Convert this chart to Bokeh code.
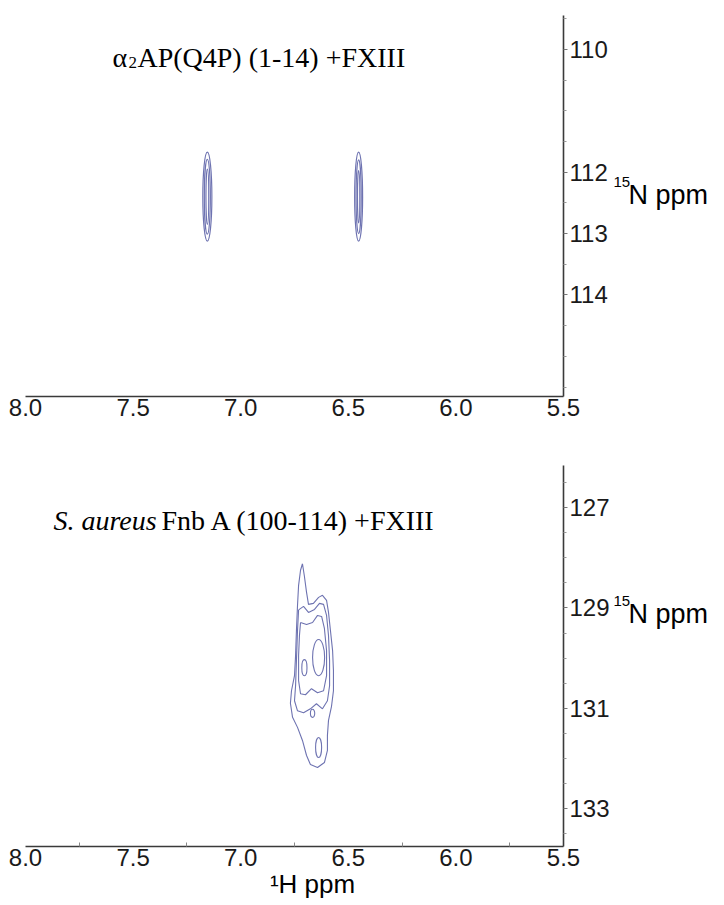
from bokeh.plotting import figure
from bokeh.layouts import column, row
from bokeh.models import Range1d, FixedTicker, Label, PrintfTickFormatter
from bokeh.embed import file_html
from bokeh.resources import INLINE

# ---- shared 1H axis ----
h_ticks = [8.0, 7.5, 7.0, 6.5, 6.0, 5.5]
h_minor_bottom = [7.75, 7.25, 6.75, 6.25, 5.75]

# ---- upper spectrum: alpha2AP(Q4P) (1-14) + FXIII ----
top_n_ticks = [110, 112, 113, 114]
top_n_minor = [109.5, 110.5, 111, 111.5, 112.5, 113.5, 114.5, 115, 115.5]
top_peak_h = [7.155, 7.155, 7.155, 6.452, 6.452, 6.452]
top_peak_n = [112.4, 112.4, 112.4, 112.4, 112.4, 112.4]
top_peak_w = [0.042, 0.028, 0.013, 0.037, 0.024, 0.011]   # 1H extent of each contour
top_peak_hgt = [1.45, 1.22, 0.90, 1.45, 1.20, 0.85]        # 15N extent of each contour

# ---- lower spectrum: S. aureus Fnb A (100-114) + FXIII ----
bot_n_ticks = [127, 129, 131, 133]
bot_n_minor = [126.5, 127.5, 128, 128.5, 129.5, 130, 130.5, 131.5, 132, 132.5, 133.5]

lvl1_h = [6.713, 6.704, 6.694, 6.685, 6.662, 6.638, 6.620, 6.601, 6.592, 6.583, 6.573,
          6.569, 6.569, 6.578, 6.592, 6.597, 6.597, 6.611, 6.643, 6.676, 6.694, 6.713,
          6.736, 6.759, 6.769, 6.764, 6.750, 6.745, 6.741, 6.736, 6.731, 6.722]
lvl1_n = [128.12, 128.37, 128.69, 128.93, 128.91, 128.79, 128.75, 128.85, 129.09, 129.45, 129.85,
          130.25, 130.65, 130.96, 131.24, 131.54, 131.84, 132.08, 132.18, 132.12, 131.94, 131.64,
          131.38, 131.18, 130.90, 130.65, 130.35, 129.95, 129.45, 128.95, 128.55, 128.25]

lvl2_h = [6.731, 6.708, 6.685, 6.657, 6.634, 6.615, 6.601, 6.592, 6.587, 6.587, 6.597,
          6.620, 6.648, 6.676, 6.708, 6.736, 6.750, 6.745, 6.741, 6.736]
lvl2_n = [129.04, 128.97, 129.09, 129.03, 128.91, 128.93, 129.15, 129.55, 130.05, 130.55, 130.85,
          131.01, 130.91, 131.01, 131.09, 131.05, 130.85, 130.55, 130.05, 129.45]

lvl3_h = [6.722, 6.694, 6.666, 6.643, 6.624, 6.611, 6.601, 6.601, 6.615, 6.643, 6.671,
          6.699, 6.722, 6.731, 6.731, 6.727]
lvl3_n = [129.29, 129.33, 129.29, 129.15, 129.17, 129.41, 129.85, 130.35, 130.65, 130.69, 130.61,
          130.73, 130.71, 130.45, 129.95, 129.55]

# small closed islands (centre, 1H extent, 15N extent)
isl_h = [6.638, 6.704, 6.666, 6.638]
isl_n = [129.99, 130.19, 131.10, 131.78]
isl_w = [0.056, 0.024, 0.020, 0.028]
isl_hgt = [0.72, 0.32, 0.16, 0.40]

CONTOUR = "#6e73b1"
AXIS = "#3a3a3a"
SANS = "Liberation Sans"
SERIF = "Liberation Serif"


def closed(xs, ys):
    return list(xs) + [xs[0]], list(ys) + [ys[0]]


def style(p, n_ticks, n_minor, x_minor):
    p.grid.visible = False
    p.outline_line_color = None

    xa = p.xaxis[0]
    xa.ticker = FixedTicker(ticks=h_ticks, minor_ticks=x_minor)
    xa.formatter = PrintfTickFormatter(format="%.1f")
    xa.axis_line_color = AXIS
    xa.axis_line_width = 1.6
    xa.major_tick_in = 0
    xa.major_tick_out = 0
    xa.minor_tick_in = 4
    xa.minor_tick_out = 0
    xa.minor_tick_line_color = "#888888"
    xa.major_label_text_font = SANS
    xa.major_label_text_font_size = "24px"
    xa.major_label_text_color = "#1a1a1a"
    xa.major_label_standoff = 2

    ya = p.yaxis[0]
    ya.ticker = FixedTicker(ticks=n_ticks, minor_ticks=n_minor)
    ya.axis_line_color = AXIS
    ya.axis_line_width = 1.6
    ya.major_tick_in = 0
    ya.major_tick_out = 4
    ya.minor_tick_in = 0
    ya.minor_tick_out = 3
    ya.major_tick_line_color = "#777777"
    ya.minor_tick_line_color = "#999999"
    ya.major_label_text_font = SANS
    ya.major_label_text_font_size = "24px"
    ya.major_label_text_color = "#1a1a1a"
    ya.major_label_standoff = 2


def side_panel(height, y_range, top, bottom):
    s = figure(width=112, height=height, x_range=Range1d(0, 1), y_range=y_range,
               x_axis_location=None, y_axis_location=None,
               output_backend="svg", toolbar_location=None, min_border=0,
               min_border_top=top, min_border_bottom=bottom)
    s.grid.visible = False
    s.outline_line_color = None
    return s


def n_label(s, y):
    s.add_layout(Label(x=0, y=y, x_offset=1, y_offset=13, text="15", text_font=SANS,
                       text_font_size="15px", text_baseline="alphabetic", text_color="black"))
    s.add_layout(Label(x=0, y=y, x_offset=16, text="N ppm", text_font=SANS,
                       text_font_size="27px", text_baseline="alphabetic", text_color="black"))


# ---------------- upper panel ----------------
p1 = figure(width=612, height=450,
            x_range=Range1d(8.0, 5.5), y_range=Range1d(115.654, 109.449),
            y_axis_location="right", output_backend="svg", toolbar_location=None,
            min_border_left=25, min_border_right=49, min_border_top=15, min_border_bottom=54)
style(p1, top_n_ticks, top_n_minor, [])

p1.ellipse(x=top_peak_h, y=top_peak_n, width=top_peak_w, height=top_peak_hgt,
           fill_color=None, line_color=CONTOUR, line_width=1.2)

TITLE_Y = 110.13
p1.add_layout(Label(x=7.596, y=TITLE_Y, text="α", text_font=SERIF, text_font_size="28px",
                    text_baseline="alphabetic", text_color="black"))
p1.add_layout(Label(x=7.596, y=TITLE_Y, x_offset=16, y_offset=-5, text="2", text_font=SERIF,
                    text_font_size="17px", text_baseline="alphabetic", text_color="black"))
p1.add_layout(Label(x=7.596, y=TITLE_Y, x_offset=25, text="AP(Q4P) (1-14) +FXIII", text_font=SERIF,
                    text_font_size="28px", text_baseline="alphabetic", text_color="black"))

s1 = side_panel(450, p1.y_range, 15, 54)
n_label(s1, 112.38)

# ---------------- lower panel ----------------
p2 = figure(width=612, height=455,
            x_range=Range1d(8.0, 5.5), y_range=Range1d(133.753, 126.163),
            y_axis_location="right", output_backend="svg", toolbar_location=None,
            min_border_left=25, min_border_right=49, min_border_top=15, min_border_bottom=59)
style(p2, bot_n_ticks, bot_n_minor, h_minor_bottom)

# 1H axis title; the leading no-break spaces nudge the centred title to the right
p2.xaxis.axis_label = "\u00a0" * 5 + "\u00b9H ppm"
p2.xaxis.axis_label_text_font = SANS
p2.xaxis.axis_label_text_font_size = "26px"
p2.xaxis.axis_label_text_font_style = "normal"
p2.xaxis.axis_label_text_color = "black"
p2.xaxis.axis_label_standoff = 0

loops = [closed(lvl1_h, lvl1_n), closed(lvl2_h, lvl2_n), closed(lvl3_h, lvl3_n)]
p2.multi_line(xs=[l[0] for l in loops], ys=[l[1] for l in loops],
              line_color=CONTOUR, line_width=1.1)
p2.ellipse(x=isl_h, y=isl_n, width=isl_w, height=isl_hgt,
           fill_color=None, line_color=CONTOUR, line_width=1.1)

p2.add_layout(Label(x=7.87, y=127.26, text="S. aureus", text_font=SERIF, text_font_style="italic",
                    text_font_size="28px", text_baseline="alphabetic", text_color="black"))
p2.add_layout(Label(x=7.87, y=127.26, x_offset=108, text="Fnb A (100-114) +FXIII", text_font=SERIF,
                    text_font_size="28px", text_baseline="alphabetic", text_color="black"))

s2 = side_panel(455, p2.y_range, 15, 59)
n_label(s2, 129.13)

layout = column(row(p1, s1, spacing=0), row(p2, s2, spacing=0), spacing=0)
open("out.html", "w").write(file_html(layout, INLINE))
